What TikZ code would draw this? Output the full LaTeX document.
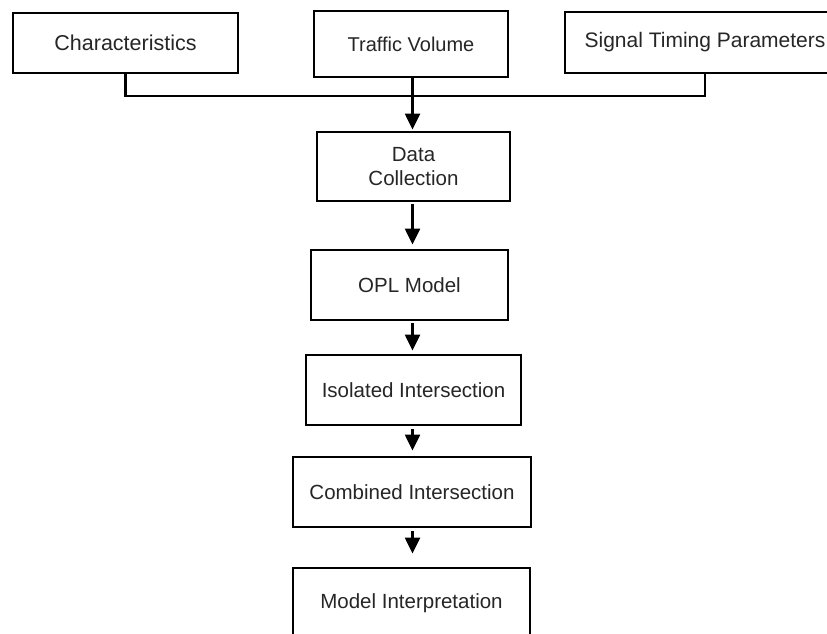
\documentclass[tikz,border=0pt]{standalone}
\usepackage{fontspec}
\setmainfont{Liberation Sans}
\usetikzlibrary{arrows.meta}
\begin{document}
\begin{tikzpicture}[x=1pt,y=-1pt,
  box/.style={draw=black,line width=2.9pt,fill=white,inner sep=0pt,align=center,
    font=\fontsize{20.5}{24}\selectfont,text=black!85},
  conn/.style={draw=black,line width=2.4pt},
  arr/.style={conn,-{Triangle[width=15pt,length=16pt]}}]
\useasboundingbox (0,0) rectangle (827,633);
\fill[white] (0,0) rectangle (827,633);
% top row
\node[box,minimum width=225pt,minimum height=60pt,font=\fontsize{21.5}{24}\selectfont] (char) at (125.5,43) {Characteristics};
\node[box,minimum width=194pt,minimum height=66pt,font=\fontsize{20}{24}\selectfont] (tv) at (411,44) {Traffic Volume};
\node[box,minimum width=280pt,minimum height=61pt,font=\fontsize{21}{24}\selectfont] (st) at (705,42.5) {Signal Timing Parameters};
% chain
\node[box,minimum width=193pt,minimum height=69pt] (dc) at (413.5,166.5) {Data\\Collection};
\node[box,minimum width=197pt,minimum height=70pt] (opl) at (409.5,285) {OPL Model};
\node[box,minimum width=215pt,minimum height=70pt] (iso) at (413.5,390) {Isolated Intersection};
\node[box,minimum width=238pt,minimum height=70pt] (comb) at (412,492) {Combined Intersection};
\node[box,minimum width=237pt,minimum height=70pt] (mi) at (411.5,603) {Model Interpretation};
\coordinate (bus) at (0,96);
\coordinate (col) at (412.5,0);
% connectors
\draw[conn] (char.south) |- (st.south |- bus) -- (st.south);
\draw[arr,shorten >=1pt] (col |- tv.south) -- (col |- dc.north);
\draw[arr,shorten <=2pt,shorten >=4pt] (col |- dc.south) -- (col |- opl.north);
\draw[arr,shorten <=2pt,shorten >=3pt] (col |- opl.south) -- (col |- iso.north);
\draw[arr,shorten <=3pt,shorten >=5pt] (col |- iso.south) -- (col |- comb.north);
\draw[arr,shorten <=3pt,shorten >=13pt] (col |- comb.south) -- (col |- mi.north);
\end{tikzpicture}
\end{document}
